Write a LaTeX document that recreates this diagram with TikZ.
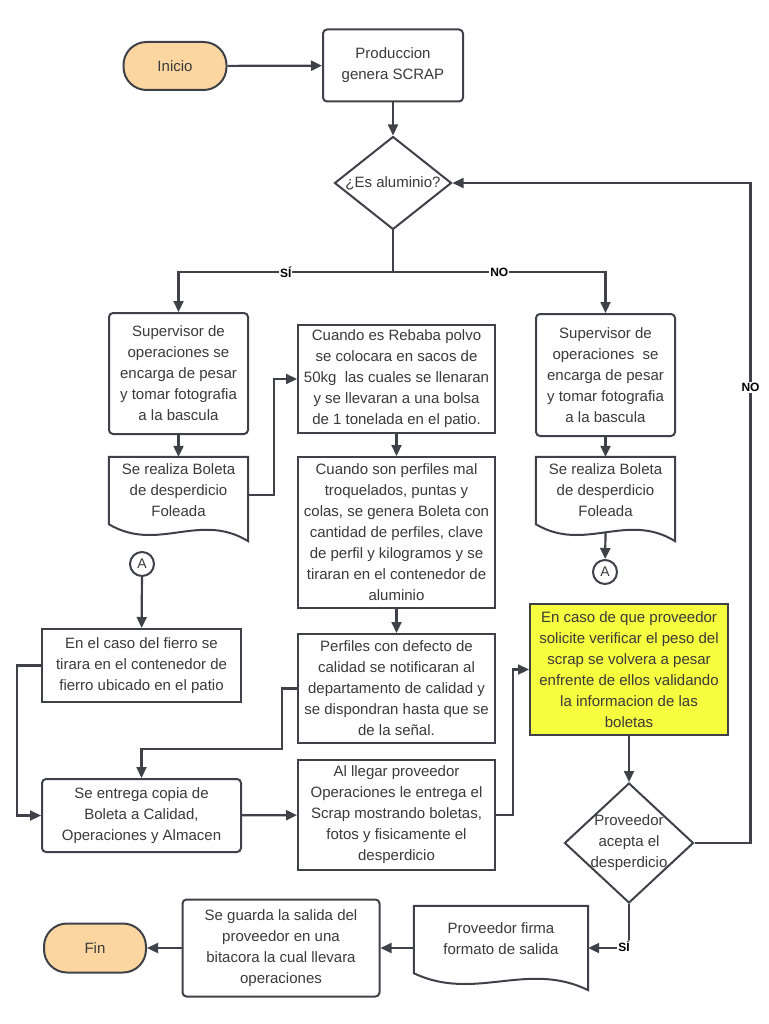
\documentclass[tikz,border=0pt]{standalone}
\usepackage{fontspec}
\setmainfont{Liberation Sans}
\usetikzlibrary{arrows.meta,shapes.geometric,calc}
\definecolor{ln}{RGB}{62,66,72}
\definecolor{tx}{RGB}{58,58,58}
\definecolor{termc}{RGB}{252,214,160}
\definecolor{yel}{RGB}{246,252,62}
\pgfdeclarelayer{background}
\pgfsetlayers{background,main}
\newcommand\docshape[1]{%
  \begin{pgfonlayer}{background}
  \draw[draw=ln, line width=2pt, fill=white, line join=miter]
    (#1.north west) -- (#1.north east) -- ($(#1.south east)+(0,18)$)
    .. controls ($(#1.south west)!0.65!(#1.south east)+(0,-12)$) and ($(#1.south west)!0.35!(#1.south east)+(0,30)$) ..
    ($(#1.south west)+(0,1)$) -- cycle;
  \end{pgfonlayer}}
\begin{document}
\begin{tikzpicture}[x=1pt,y=-1pt,
  font=\fontsize{15}{21}\selectfont, text=tx,
  base/.style={draw=ln, line width=2pt, align=center, inner sep=0pt, fill=white},
  rbox/.style={base, rounded corners=4pt},
  sbox/.style={base},
  termbox/.style={base, rounded corners=23pt, fill=termc},
  docbox/.style={align=center, inner sep=0pt},
  dia/.style={draw=ln, line width=2pt, shape=diamond, inner sep=0pt, fill=white},
  dtext/.style={align=center, inner sep=0pt},
  circ/.style={draw=ln, line width=2pt, circle, minimum size=24pt, inner sep=0pt, fill=white, font=\fontsize{14}{14}\selectfont},
  conn/.style={draw=ln, line width=2.2pt, -{Triangle[length=11pt,width=10pt]}},
  plain/.style={draw=ln, line width=2.2pt},
  lbl/.style={font=\fontsize{12}{13}\selectfont\bfseries, text=black, fill=white, inner sep=1pt}
]
\useasboundingbox (0,0) rectangle (768,1024);

% nodes
\node[termbox, minimum width=103pt, minimum height=48pt] (ini) at (175,66) {Inicio};
\node[rbox, minimum width=140pt, minimum height=72pt] (prod) at (393,65.5) {Produccion\\genera SCRAP};
\node[dia, minimum width=117pt, minimum height=93pt] (d1) at (393,183) {};
\node[dtext] at (d1.center) {¿Es aluminio?};

\node[rbox, minimum width=139pt, minimum height=121pt] (lsup) at (178.5,373.5)
  {Supervisor de\\operaciones se\\encarga de pesar\\y tomar fotografia\\a la bascula};
\node[docbox, minimum width=139pt, minimum height=66pt] (ldoc) at (178.5,490)
  {Se realiza Boleta\\de desperdicio\\Foleada};
\docshape{ldoc}

\node[rbox, minimum width=139pt, minimum height=122pt] (rsup) at (605.5,375)
  {Supervisor de\\operaciones\ \ se\\encarga de pesar\\y tomar fotografia\\a la bascula};
\node[docbox, minimum width=139pt, minimum height=66pt] (rdoc) at (605.5,490)
  {Se realiza Boleta\\de desperdicio\\Foleada};
\docshape{rdoc}
\node[circ] (ar) at (605,572) {A};

\node[sbox, minimum width=197pt, minimum height=108pt] (b1) at (396.5,379)
  {Cuando es Rebaba polvo\\se colocara en sacos de\\50kg\ \ las cuales se llenaran\\y se llevaran a una bolsa\\de 1 tonelada en el patio.};
\node[sbox, minimum width=197pt, minimum height=151pt] (b2) at (396.5,532.5)
  {Cuando son perfiles mal\\troquelados, puntas y\\colas, se genera Boleta con\\cantidad de perfiles, clave\\de perfil y kilogramos y se\\tiraran en el contenedor de\\aluminio};
\node[sbox, minimum width=197pt, minimum height=109pt] (b3) at (396.5,688.5)
  {Perfiles con defecto de\\calidad se notificaran al\\departamento de calidad y\\se dispondran hasta que se\\de la señal.};
\node[sbox, minimum width=197pt, minimum height=110pt] (b4) at (396.5,815)
  {Al llegar proveedor\\Operaciones le entrega el\\Scrap mostrando boletas,\\fotos y fisicamente el\\desperdicio};

\node[circ] (al) at (142,564) {A};
\node[sbox, minimum width=199pt, minimum height=73pt] (fierro) at (141.5,665.5)
  {En el caso del fierro se\\tirara en el contenedor de\\fierro ubicado en el patio};
\node[rbox, minimum width=199pt, minimum height=73pt] (entrega) at (141.5,815.5)
  {Se entrega copia de\\Boleta a Calidad,\\Operaciones y Almacen};

\node[sbox, fill=yel, minimum width=198pt, minimum height=131pt] (yel) at (629,669.5)
  {En caso de que proveedor\\solicite verificar el peso del\\scrap se volvera a pesar\\enfrente de ellos validando\\la informacion de las\\boletas};
\node[dia, minimum width=129pt, minimum height=120pt] (d2) at (629,843) {};
\node[dtext] at (d2.center) {Proveedor\\acepta el\\desperdicio};

\node[docbox, minimum width=174pt, minimum height=66pt] (bdoc) at (501,939)
  {Proveedor firma\\formato de salida};
\docshape{bdoc}
\node[rbox, minimum width=197pt, minimum height=97pt] (guarda) at (281,948)
  {Se guarda la salida del\\proveedor en una\\bitacora la cual llevara\\operaciones};
\node[termbox, minimum width=102pt, minimum height=49pt] (fin) at (95,948) {Fin};

% connectors
\draw[conn] (ini) -- (prod);
\draw[conn] (prod) -- (d1);
\coordinate (split) at (393,272);
\draw[plain] (d1.south) -- (split);
\draw[conn] (split) -| node[lbl, pos=0.25] {SÍ} (lsup.north);
\draw[conn] (split) -| node[lbl, pos=0.25] {NO} (rsup.north);
\draw[conn] (lsup) -- (ldoc);
\draw[conn] (rsup) -- (rdoc);
\draw[conn] ($(ldoc.east)+(0,5)$) -- ++(26,0) |- (b1.west);
\draw[conn] ($(rdoc.south)+(0,9)$) -- (ar);
\draw[conn] (b1) -- (b2);
\draw[conn] (b2) -- (b3);
\draw[conn] (al) -- (fierro);
\draw[conn] (fierro.west) -- ++(-24,0) |- (entrega.west);
\draw[conn] (b3.west) -- ++(-15,0) |- ($(entrega.north)+(0,-29)$) -- (entrega.north);
\draw[conn] (entrega) -- (b4);
\draw[conn] (b4.east) -- ++(17,0) |- (yel.west);
\draw[conn] (yel) -- (d2);
\draw[conn] (d2.east) -- ++(56,0) |- node[lbl, pos=0.345] {NO} (d1.east);
\draw[conn] (d2.south) |- node[lbl, pos=0.56, yshift=2pt] {SÍ} ($(bdoc.east)+(0,9)$);
\draw[conn] ($(bdoc.west)+(0,9)$) -- (guarda.east);
\draw[conn] (guarda) -- (fin);
\end{tikzpicture}
\end{document}
